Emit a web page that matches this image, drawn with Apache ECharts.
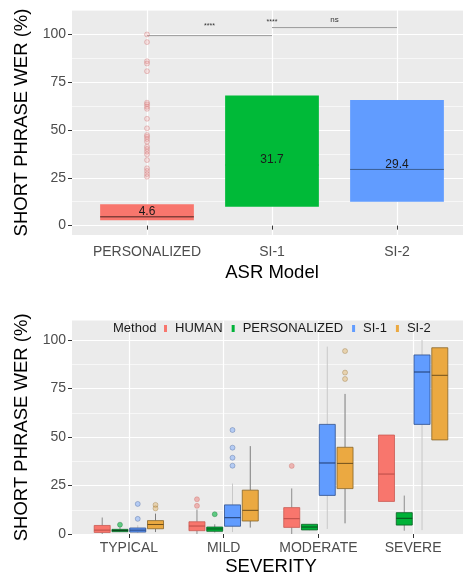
<!DOCTYPE html>
<html>
<head>
<meta charset="utf-8">
<script src="https://cdn.jsdelivr.net/npm/echarts@6/dist/echarts.min.js"></script>
<style>
  html, body { margin: 0; padding: 0; background: #fff; }
  #chart { width: 463px; height: 575px; }
</style>
</head>
<body>
<div id="chart"></div>
<script>
// ---- top panel: WER by ASR model ----
const models = ['PERSONALIZED', 'SI-1', 'SI-2'];
const modelQ1 = [2.8, 9.9, 12.5];
const modelMedian = [4.6, 31.7, 29.4];
const modelQ3 = [11.2, 68.1, 65.7];
const personalizedOutliers = [100, 96, 86, 84.8, 80.8, 64.3, 63.4, 62.2, 61.1, 55.9, 50.9, 47.4,
  46.5, 45.3, 43.9, 41.3, 40.1, 38.7, 37.3, 34.3, 30.0, 28.6, 27.0, 25.6];
const sigBrackets = [[0, 1, 99.4], [1, 2, 103.6]];
const sigLabels = [[0.5, 104.4, '****'], [1, 106.4, '****'], [1.5, 107.8, 'ns']];

// ---- bottom panel: WER by severity and method ----
const severities = ['TYPICAL', 'MILD', 'MODERATE', 'SEVERE'];
const methods = ['HUMAN', 'PERSONALIZED', 'SI-1', 'SI-2'];
// [low whisker, q1, median, q3, high whisker] per severity
const humanBoxes = [[0, 0.8, 2.0, 4.4, 8.5], [0, 1.7, 4.1, 6.3, 12.6], [0, 3.4, 7.9, 13.6, 23.5], [16.8, 16.8, 30.9, 51.0, 51.0]];
const personalizedBoxes = [[1.0, 1.2, 1.8, 2.4, 3.5], [0.8, 1.4, 2.6, 3.6, 5.0], [2.0, 2.1, 3.6, 5.0, 5.0], [1.7, 4.6, 8.1, 11.0, 19.8]];
const si1Boxes = [[0.5, 1.0, 2.0, 3.1, 4.5], [1.0, 4.0, 8.4, 15.0, 26.0], [2.6, 19.9, 36.6, 56.5, 96.6], [2.0, 56.5, 83.5, 92.3, 100]];
const si2Boxes = [[1.0, 2.7, 4.9, 6.9, 10.5], [3.3, 6.7, 12.2, 22.6, 45.3], [5.5, 23.4, 36.4, 44.7, 72.2], [48.5, 48.5, 81.8, 96.0, 96.0]];
// [severity index, value]
const humanOutliers = [[1, 17.9], [1, 14.5], [2, 35.1]];
const personalizedOutliersBySeverity = [[0, 4.8], [1, 10.2]];
const si1Outliers = [[0, 15.5], [0, 7.8], [1, 53.6], [1, 44.5], [1, 39.3], [1, 35.2]];
const si2Outliers = [[0, 15.0], [0, 13.2], [2, 94.3], [2, 83.2], [2, 79.9]];

const yTicks = [0, 25, 50, 75, 100];
const yMinorTicks = [12.5, 37.5, 62.5, 87.5, 112.5];

const FONT = "'Liberation Sans', Arial, sans-serif";
const topColors = ['#F8766D', '#00BA38', '#619CFF'];
const topMedianColors = ['#4a2320', '#00BA38', '#3a5d96'];
const methodStyles = [
  { fill: '#F8766D', stroke: '#c95a53', median: '#b94c46', whisker: '#8c8c8c', point: 'rgba(235,110,105,0.55)' },
  { fill: '#00B238', stroke: '#0b5e24', median: '#0a4a1c', whisker: '#8c8c8c', point: 'rgba(0,180,60,0.75)' },
  { fill: '#619CFF', stroke: '#2f4f8c', median: '#1f3a6e', whisker: '#c8c8c8', point: 'rgba(97,156,255,0.5)' },
  { fill: '#EBA941', stroke: '#86652a', median: '#6e4f1c', whisker: '#7c7c7c', point: 'rgba(225,165,70,0.45)' },
];
const methodBoxes = [humanBoxes, personalizedBoxes, si1Boxes, si2Boxes];
const methodOutliers = [humanOutliers, personalizedOutliersBySeverity, si1Outliers, si2Outliers];

const dodge = 0.1875;
const smallBoxWidth = 0.169;
const bigBoxWidth = 0.75;

function gridAxes(gridIndex, xMax, labels, yMin, yMax, labelMargin, nameGap) {
  const x = {
    type: 'value', gridIndex, min: -0.6, max: xMax,
    axisLine: { show: false },
    axisTick: { show: true, length: 4, customValues: labels.map((_, i) => i), lineStyle: { color: '#333', width: 1 } },
    axisLabel: {
      customValues: labels.map((_, i) => i), formatter: (v) => labels[Math.round(v)] || '',
      fontSize: 14, color: '#4d4d4d', margin: labelMargin, fontFamily: FONT,
    },
    splitLine: { show: true, lineStyle: { color: '#fff', width: 1.2 } },
    name: gridIndex === 0 ? 'ASR Model' : 'SEVERITY',
    nameLocation: 'middle', nameGap: nameGap,
    nameTextStyle: { fontSize: 18.5, color: '#000', fontFamily: FONT },
  };
  const yMajor = {
    type: 'value', gridIndex, min: yMin, max: yMax, position: 'left',
    axisLine: { show: false },
    axisTick: { show: true, length: 4, customValues: yTicks, lineStyle: { color: '#333', width: 1 } },
    axisLabel: { customValues: yTicks, fontSize: 14, color: '#4d4d4d', margin: 6, fontFamily: FONT },
    splitLine: { show: true, lineStyle: { color: '#fff', width: 1.2 } },
    name: 'SHORT PHRASE WER (%)', nameLocation: 'middle', nameGap: 35,
    nameTextStyle: { fontSize: 18.5, color: '#000', fontFamily: FONT },
  };
  const yMinor = {
    type: 'value', gridIndex, min: yMin, max: yMax, position: 'left',
    axisLine: { show: false },
    axisTick: { show: false, customValues: yMinorTicks },
    axisLabel: { show: false },
    splitLine: { show: true, lineStyle: { color: '#fff', width: 0.6 } },
  };
  return { x, yMajor, yMinor };
}

const topAxes = gridAxes(0, 2.6, models, -4.9, 112.8, 10, 28);
const botAxes = gridAxes(1, 3.6, severities, 0, 110, 7, 23);

function bottomBoxRenderer(style) {
  return function (params, api) {
    const x = api.value(0);
    const lo = api.coord([x, api.value(1)]);
    const q1 = api.coord([x, api.value(2)]);
    const md = api.coord([x, api.value(3)]);
    const q3 = api.coord([x, api.value(4)]);
    const hi = api.coord([x, api.value(5)]);
    const half = api.size([smallBoxWidth, 0])[0] / 2;
    const cx = q1[0];
    return {
      type: 'group',
      children: [
        { type: 'line', shape: { x1: cx, y1: q3[1], x2: cx, y2: hi[1] }, style: { stroke: style.whisker, lineWidth: 1 } },
        { type: 'line', shape: { x1: cx, y1: q1[1], x2: cx, y2: lo[1] }, style: { stroke: style.whisker, lineWidth: 1 } },
        { type: 'rect', shape: { x: cx - half, y: q3[1], width: half * 2, height: Math.max(q1[1] - q3[1], 1) },
          style: { fill: style.fill, stroke: style.stroke, lineWidth: 0.8 } },
        { type: 'line', shape: { x1: cx - half, y1: md[1], x2: cx + half, y2: md[1] }, style: { stroke: style.median, lineWidth: 1 } },
      ],
    };
  };
}

function topBoxRenderer(params, api) {
  const i = params.dataIndex;
  const x = api.value(0);
  const q1 = api.coord([x, api.value(1)]);
  const md = api.coord([x, api.value(2)]);
  const q3 = api.coord([x, api.value(3)]);
  const half = api.size([bigBoxWidth, 0])[0] / 2;
  const cx = q1[0];
  return {
    type: 'group',
    children: [
      { type: 'rect', shape: { x: cx - half, y: q3[1], width: half * 2, height: q1[1] - q3[1] }, style: { fill: topColors[i] } },
      { type: 'line', shape: { x1: cx - half, y1: md[1], x2: cx + half, y2: md[1] }, style: { stroke: topMedianColors[i], lineWidth: 1 } },
      { type: 'text', x: cx, y: md[1] - 5,
        style: { text: String(api.value(2)), fontSize: 12, fill: '#1a1a1a', align: 'center', verticalAlign: 'middle', fontFamily: FONT } },
    ],
  };
}

const series = [
  {
    type: 'custom', xAxisIndex: 0, yAxisIndex: 0, silent: true,
    data: models.map((_, i) => [i, modelQ1[i], modelMedian[i], modelQ3[i]]),
    encode: { x: 0, y: [1, 2, 3] },
    renderItem: topBoxRenderer,
  },
  {
    type: 'scatter', xAxisIndex: 0, yAxisIndex: 0, silent: true,
    data: personalizedOutliers.map((v) => [0, v]),
    symbolSize: 5,
    itemStyle: { color: 'rgba(240,150,150,0.3)', borderColor: 'rgba(205,110,110,0.55)', borderWidth: 0.8 },
  },
  {
    type: 'custom', xAxisIndex: 0, yAxisIndex: 0, silent: true,
    data: sigBrackets,
    renderItem: (params, api) => {
      const a = api.coord([api.value(0), api.value(2)]);
      const b = api.coord([api.value(1), api.value(2)]);
      return { type: 'line', shape: { x1: a[0], y1: a[1], x2: b[0], y2: b[1] }, style: { stroke: '#9a9a9a', lineWidth: 1 } };
    },
  },
  {
    type: 'custom', xAxisIndex: 0, yAxisIndex: 0, silent: true,
    data: sigLabels,
    renderItem: (params, api) => {
      const p = api.coord([api.value(0), api.value(1)]);
      const txt = sigLabels[params.dataIndex][2];
      return { type: 'text', x: p[0], y: p[1],
        style: { text: txt, fontSize: txt === 'ns' ? 8 : 7, fill: '#333', align: 'center', verticalAlign: 'middle', fontFamily: FONT } };
    },
  },
];

methods.forEach((name, m) => {
  const off = (m - 1.5) * dodge;
  series.push({
    name, type: 'custom', xAxisIndex: 1, yAxisIndex: 2, silent: true,
    itemStyle: { color: methodStyles[m].fill },
    data: methodBoxes[m].map((b, i) => [i + off].concat(b)),
    encode: { x: 0, y: [1, 2, 3, 4, 5] },
    renderItem: bottomBoxRenderer(methodStyles[m]),
  });
  series.push({
    type: 'scatter', xAxisIndex: 1, yAxisIndex: 2, silent: true,
    data: methodOutliers[m].map((p) => [p[0] + off, p[1]]),
    symbolSize: 5,
    itemStyle: { color: methodStyles[m].point, borderColor: methodStyles[m].stroke, borderWidth: 0.4, opacity: 0.8 },
  });
});

const chart = echarts.init(document.getElementById('chart'), null, { renderer: 'canvas' });
chart.setOption({
  animation: false,
  textStyle: { fontFamily: FONT },
  grid: [
    { left: 72, top: 10, width: 400, height: 225, show: true, backgroundColor: '#EBEBEB', borderWidth: 0, outerBoundsMode: 'none' },
    { left: 72, top: 320.6, width: 398, height: 213.4, show: true, backgroundColor: '#EBEBEB', borderWidth: 0, outerBoundsMode: 'none' },
  ],
  title: {
    text: 'Method', left: 113, top: 322, padding: 0,
    textStyle: { fontSize: 13, fontWeight: 'normal', color: '#1a1a1a', fontFamily: FONT },
  },
  legend: {
    data: methods, left: 164, top: 322, padding: 0, itemGap: 9,
    itemWidth: 3, itemHeight: 7, icon: 'rect', selectedMode: false,
    textStyle: { fontSize: 13, color: '#1a1a1a', padding: [0, 0, 0, 3], fontFamily: FONT },
  },
  xAxis: [topAxes.x, botAxes.x],
  yAxis: [topAxes.yMinor, topAxes.yMajor, botAxes.yMinor, botAxes.yMajor],
  series,
});
</script>
</body>
</html>
